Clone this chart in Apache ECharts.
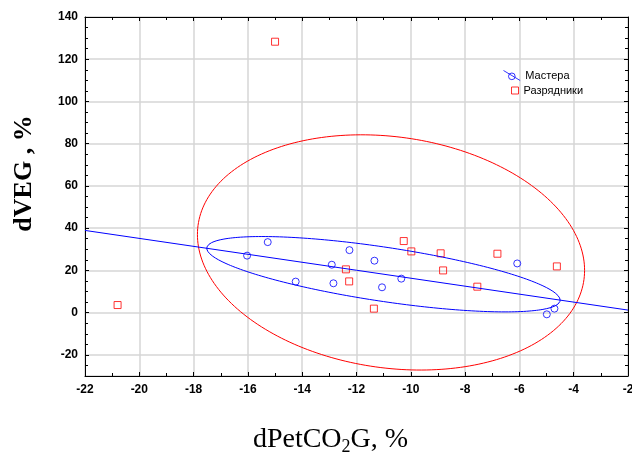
<!DOCTYPE html>
<html>
<head>
<meta charset="utf-8">
<script src="https://cdn.jsdelivr.net/npm/echarts@6/dist/echarts.min.js"></script>
<style>
  html, body { margin: 0; padding: 0; background: #fff; }
  #chart { width: 632px; height: 454px; }
</style>
</head>
<body>
<div id="chart"></div>
<script>
// Мастера
const masterX = [-16.03, -15.27, -14.24, -12.91, -12.85, -12.26, -11.34, -11.06, -10.35, -6.08, -4.99, -4.71];
const masterY = [27.0, 33.4, 14.7, 22.7, 13.9, 29.6, 24.6, 12.0, 16.1, 23.3, -0.8, 1.9];
// Разрядники
const rankX = [-20.8, -15.0, -12.39, -12.27, -11.36, -10.26, -9.98, -8.90, -8.81, -7.55, -6.81, -4.62];
const rankY = [3.6, 128.3, 20.5, 14.8, 1.9, 33.9, 29.0, 28.1, 20.0, 12.3, 27.9, 21.9];

const xRange = [-22, -2];
const yRange = [-30, 140];
const ellipseK = 1.69;

function stats(xs, ys) {
    const n = xs.length;
    const mx = xs.reduce((a, b) => a + b, 0) / n;
    const my = ys.reduce((a, b) => a + b, 0) / n;
    let sxx = 0, syy = 0, sxy = 0;
    for (let i = 0; i < n; i++) {
        sxx += (xs[i] - mx) ** 2;
        syy += (ys[i] - my) ** 2;
        sxy += (xs[i] - mx) * (ys[i] - my);
    }
    const sx = Math.sqrt(sxx / (n - 1));
    const sy = Math.sqrt(syy / (n - 1));
    return { mx, my, sx, sy, r: sxy / Math.sqrt(sxx * syy), slope: sxy / sxx };
}

function ellipse(xs, ys, k) {
    const s = stats(xs, ys);
    const pts = [];
    for (let i = 0; i <= 240; i++) {
        const t = i / 240 * Math.PI * 2;
        pts.push([
            s.mx + k * s.sx * Math.cos(t),
            s.my + k * s.sy * (s.r * Math.cos(t) + Math.sqrt(1 - s.r * s.r) * Math.sin(t))
        ]);
    }
    return pts;
}

function fitLine(xs, ys) {
    const s = stats(xs, ys);
    const b = s.my - s.slope * s.mx;
    return xRange.map(x => [x, b + s.slope * x]);
}

const zip = (xs, ys) => xs.map((x, i) => [x, ys[i]]);

const chart = echarts.init(document.getElementById('chart'));
const sans = 'Liberation Sans';
const serif = 'Liberation Serif';

const tickLabel = { fontFamily: sans, fontWeight: 'bold', fontSize: 12, color: '#000' };
const gridLine = { show: true, lineStyle: { color: '#d6d6d6', width: 1.5 } };
const black = { color: '#000' };

const option = {
    animation: false,
    grid: { left: 85, top: 17, right: 4, bottom: 78, outerBoundsMode: 'none', containLabel: false },
    legend: [
        {
            data: [{
                name: 'Мастера',
                icon: 'path://M0,0 L20,12 M14,7 A4,4 0 1 1 6,7 A4,4 0 1 1 14,7',
                itemStyle: { color: 'rgba(0,0,0,0)', borderColor: '#0000ff', borderWidth: 1 }
            }],
            left: 503, top: 70, padding: 0, itemWidth: 17, itemHeight: 10,
            textStyle: { fontFamily: sans, fontSize: 11, color: '#000' }
        },
        {
            data: [{
                name: 'Разрядники',
                icon: 'rect',
                itemStyle: { color: 'rgba(0,0,0,0)', borderColor: '#ff0000', borderWidth: 1 }
            }],
            left: 511, top: 85, padding: 0, itemWidth: 7, itemHeight: 7,
            textStyle: { fontFamily: sans, fontSize: 11, color: '#000' }
        }
    ],
    xAxis: [
        {
            type: 'value', min: xRange[0], max: xRange[1], interval: 2,
            axisLine: { onZero: false, lineStyle: black },
            axisTick: { inside: true, length: 4, lineStyle: black },
            minorTick: { show: true, splitNumber: 2, length: 3, lineStyle: black },
            axisLabel: Object.assign({ margin: 8 }, tickLabel),
            splitLine: gridLine,
            name: '{a|dPetCO}{s|2}{a|G, %}',
            nameLocation: 'middle', nameGap: 48,
            nameTextStyle: {
                padding: [0, 52, 0, 0],
                rich: {
                    a: { fontFamily: serif, fontSize: 28, color: '#000' },
                    s: { fontFamily: serif, fontSize: 18, color: '#000', padding: [14, 0, 0, 0] }
                }
            }
        },
        {
            type: 'value', position: 'top', min: xRange[0], max: xRange[1], interval: 2,
            axisLine: { show: true, onZero: false, lineStyle: black },
            axisTick: { show: true, inside: true, length: 4, lineStyle: black },
            minorTick: { show: true, splitNumber: 2, length: 3, lineStyle: black },
            axisLabel: { show: false },
            splitLine: { show: false }
        }
    ],
    yAxis: [
        {
            type: 'value', min: yRange[0], max: yRange[1], splitNumber: 8,
            axisLine: { show: true, onZero: false, lineStyle: black },
            axisTick: { show: true, inside: true, length: 4, lineStyle: black },
            minorTick: { show: true, splitNumber: 4, length: 3, lineStyle: black },
            axisLabel: Object.assign({ margin: 7, showMinLabel: false }, tickLabel),
            splitLine: gridLine,
            name: 'dVEG , %',
            nameLocation: 'middle', nameGap: 48,
            nameTextStyle: {
                fontFamily: serif, fontWeight: 'bold', fontSize: 26, color: '#000',
                padding: [0, 0, 0, 46]
            }
        },
        {
            type: 'value', position: 'right', min: yRange[0], max: yRange[1], splitNumber: 8,
            axisLine: { show: true, onZero: false, lineStyle: black },
            axisTick: { show: true, inside: true, length: 4, lineStyle: black },
            minorTick: { show: true, splitNumber: 4, length: 3, lineStyle: black },
            axisLabel: { show: false },
            splitLine: { show: false }
        }
    ],
    series: [
        {
            name: 'ellipse-r', type: 'line', silent: true, showSymbol: false,
            data: ellipse(rankX, rankY, ellipseK),
            lineStyle: { color: '#ff0000', width: 1 }
        },
        {
            name: 'ellipse-m', type: 'line', silent: true, showSymbol: false,
            data: ellipse(masterX, masterY, ellipseK),
            lineStyle: { color: '#0000ff', width: 1 }
        },
        {
            name: 'fit-m', type: 'line', silent: true, showSymbol: false,
            data: fitLine(masterX, masterY),
            lineStyle: { color: '#0000ff', width: 1 }
        },
        {
            name: 'Мастера', type: 'scatter', symbol: 'circle', symbolSize: 7,
            data: zip(masterX, masterY),
            itemStyle: { color: 'rgba(0,0,0,0)', borderColor: '#0000ff', borderWidth: 1 }
        },
        {
            name: 'Разрядники', type: 'scatter', symbol: 'rect', symbolSize: 7,
            data: zip(rankX, rankY),
            itemStyle: { color: 'rgba(0,0,0,0)', borderColor: '#ff0000', borderWidth: 1 }
        }
    ]
};

chart.setOption(option);
window.addEventListener('resize', function () { chart.resize(); });
</script>
</body>
</html>
